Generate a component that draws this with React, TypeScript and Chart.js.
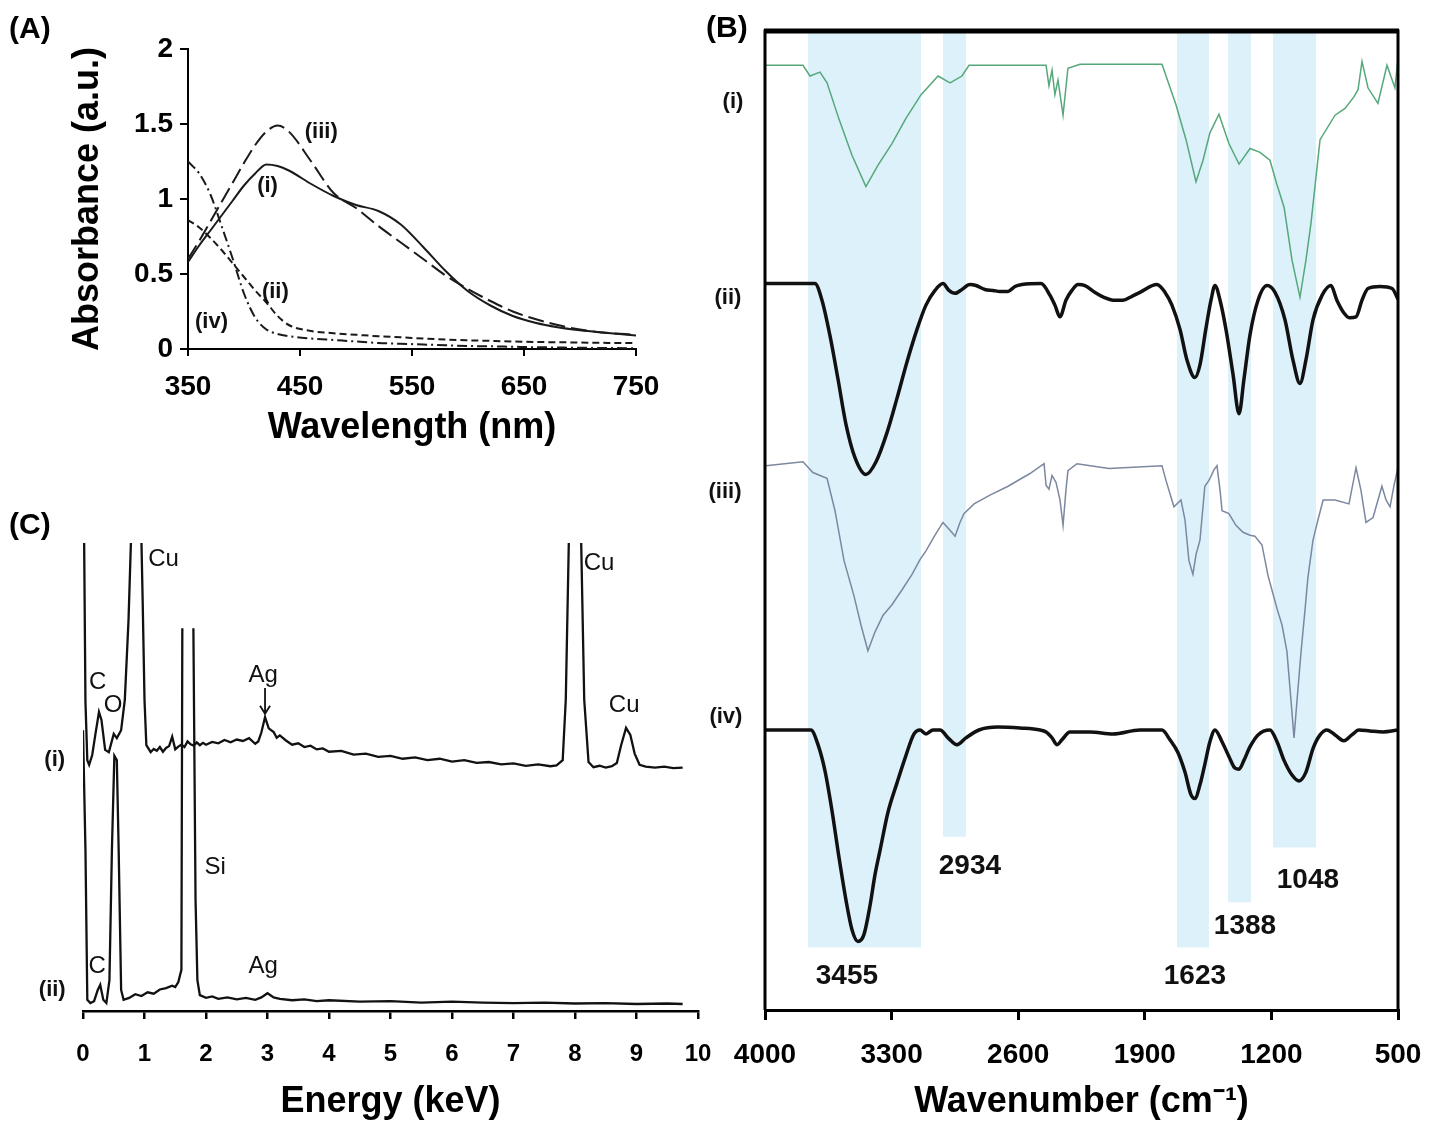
import React, { useEffect, useRef } from "react";
import { Chart, registerables } from "chart.js";

Chart.register(...registerables);

const FONT = 'Arial, "Liberation Sans", Helvetica, sans-serif';

// ---------------- Panel A : UV-Vis absorbance ----------------
const uvWavelength = [350, 360, 370, 380, 390, 400, 410, 420, 430, 440, 460, 480, 500, 520, 540, 560, 580, 600, 620, 640, 660, 680, 700, 720, 750];
const uvSeriesI = [0.58, 0.69, 0.79, 0.89, 0.99, 1.09, 1.17, 1.23, 1.22, 1.19, 1.1, 1.02, 0.96, 0.92, 0.83, 0.68, 0.52, 0.385, 0.29, 0.22, 0.175, 0.145, 0.125, 0.11, 0.09];
const uvSeriesII = [0.86, 0.81, 0.74, 0.66, 0.57, 0.48, 0.39, 0.31, 0.22, 0.16, 0.12, 0.105, 0.095, 0.085, 0.078, 0.07, 0.063, 0.058, 0.054, 0.05, 0.047, 0.045, 0.043, 0.041, 0.04];
const uvSeriesIII = [0.6, 0.72, 0.85, 0.98, 1.11, 1.24, 1.36, 1.45, 1.49, 1.45, 1.25, 1.04, 0.94, 0.82, 0.71, 0.6, 0.49, 0.4, 0.32, 0.25, 0.2, 0.16, 0.13, 0.11, 0.095];
const uvSeriesIV = [1.25, 1.17, 1.03, 0.82, 0.6, 0.37, 0.21, 0.13, 0.1, 0.085, 0.07, 0.06, 0.05, 0.04, 0.035, 0.03, 0.025, 0.02, 0.018, 0.015, 0.012, 0.01, 0.008, 0.007, 0.005];
const uvLabelText = ["(iii)", "(i)", "(ii)", "(iv)"];
const uvLabelWl = [469, 421, 428, 371];
const uvLabelAbs = [1.45, 1.09, 0.38, 0.18];

// ---------------- Panel B : FTIR ----------------
const irWnI = [3995, 3790, 3751, 3696, 3657, 3591, 3519, 3442, 3375, 3298, 3220, 3137, 3043, 2977, 2911, 2872, 2446, 2430, 2413, 2397, 2380, 2352, 2325, 2258, 1805, 1728, 1672, 1617, 1578, 1540, 1490, 1435, 1379, 1318, 1263, 1208, 1169, 1130, 1086, 1042, 1009, 981, 931, 848, 793, 743, 721, 699, 666, 611, 561, 517, 500];
const irTI = [96.5, 96.5, 95.4, 95.8, 94.7, 91.0, 87.3, 84.1, 86.3, 88.5, 91.1, 93.5, 95.4, 94.7, 95.4, 96.5, 96.5, 94.4, 96.0, 93.5, 95.0, 91.4, 96.2, 96.6, 96.6, 92.5, 88.9, 84.6, 86.8, 89.6, 91.5, 88.5, 86.4, 88.0, 87.6, 86.8, 84.3, 82.0, 76.6, 72.8, 76.6, 80.4, 88.9, 91.4, 92.1, 93.3, 94.0, 96.9, 94.2, 92.6, 96.5, 94.2, 97.2];

const irWnII = [3995, 3724, 3685, 3641, 3596, 3552, 3502, 3442, 3386, 3325, 3270, 3215, 3160, 3110, 3060, 3016, 2983, 2949, 2911, 2867, 2833, 2784, 2739, 2701, 2656, 2618, 2579, 2474, 2424, 2397, 2369, 2336, 2303, 2269, 2231, 2175, 2126, 2076, 2021, 1971, 1927, 1833, 1788, 1750, 1705, 1667, 1623, 1595, 1563, 1534, 1512, 1484, 1451, 1412, 1379, 1352, 1318, 1274, 1224, 1180, 1125, 1081, 1042, 1009, 970, 920, 871, 838, 799, 766, 732, 699, 666, 600, 533, 500];
const irTII = [74.2, 74.2, 72.5, 68.9, 64.4, 59.8, 56.4, 54.7, 56.0, 59.0, 62.5, 66.2, 69.5, 72.0, 73.5, 74.2, 73.5, 73.2, 73.6, 74.1, 74.0, 73.6, 73.5, 73.4, 73.4, 73.9, 74.1, 74.2, 73.0, 72.0, 70.8, 72.5, 73.5, 74.1, 74.0, 73.3, 72.8, 72.5, 72.5, 72.9, 73.3, 74.1, 73.3, 72.0, 69.5, 66.4, 64.6, 65.9, 69.5, 72.5, 74.0, 72.5, 69.5, 64.9, 60.9, 64.4, 69.0, 72.5, 74.0, 73.3, 70.5, 66.4, 64.0, 66.4, 70.5, 73.0, 74.0, 72.5, 71.2, 70.7, 70.8, 72.5, 73.7, 73.9, 73.7, 72.6];

const irWnIII = [3995, 3790, 3735, 3696, 3657, 3613, 3563, 3508, 3469, 3431, 3392, 3348, 3298, 3243, 3187, 3143, 3110, 3060, 3016, 2977, 2949, 2922, 2900, 2844, 2756, 2656, 2535, 2457, 2446, 2430, 2413, 2391, 2369, 2352, 2336, 2325, 2275, 2098, 1805, 1783, 1739, 1700, 1678, 1656, 1634, 1617, 1595, 1568, 1545, 1517, 1501, 1484, 1473, 1435, 1396, 1357, 1318, 1291, 1252, 1219, 1197, 1169, 1141, 1114, 1092, 1075, 1058, 1036, 1014, 998, 970, 942, 914, 848, 771, 732, 705, 677, 638, 589, 566, 544, 522, 500];
const irTIII = [55.6, 56.0, 54.9, 54.6, 54.3, 51.0, 45.9, 42.3, 39.3, 36.7, 38.6, 40.3, 41.4, 42.9, 44.5, 46.0, 46.9, 48.5, 49.8, 49.0, 48.4, 49.8, 50.7, 51.7, 52.6, 53.5, 54.8, 55.8, 53.6, 53.2, 54.6, 53.9, 52.1, 49.5, 53.1, 55.1, 55.8, 55.3, 55.6, 54.1, 51.4, 52.1, 50.1, 45.9, 44.5, 46.5, 48.0, 53.5, 54.1, 55.2, 55.6, 53.1, 51.0, 50.7, 49.5, 48.8, 48.5, 48.4, 47.5, 44.4, 42.9, 41.0, 39.3, 36.6, 31.7, 27.8, 31.7, 36.6, 40.9, 44.2, 48.0, 50.1, 52.1, 52.1, 51.7, 55.4, 53.1, 49.8, 50.3, 53.5, 52.1, 51.4, 53.6, 55.4];

const irWnIV = [3995, 3746, 3707, 3668, 3630, 3591, 3552, 3519, 3486, 3453, 3419, 3392, 3364, 3320, 3270, 3226, 3176, 3143, 3110, 3071, 3032, 2988, 2938, 2889, 2817, 2712, 2590, 2479, 2446, 2413, 2385, 2358, 2314, 2203, 2076, 1927, 1805, 1761, 1717, 1678, 1645, 1623, 1595, 1568, 1540, 1512, 1473, 1435, 1401, 1379, 1352, 1318, 1274, 1208, 1169, 1130, 1086, 1047, 1009, 970, 931, 893, 848, 799, 755, 716, 655, 583, 500];
const irTIV = [28.6, 28.6, 27.1, 24.4, 20.4, 15.6, 11.2, 8.2, 7.0, 7.7, 10.7, 13.8, 16.3, 20.2, 23.2, 25.7, 28.2, 28.6, 28.2, 28.6, 28.6, 27.8, 27.1, 27.8, 28.6, 28.9, 28.8, 28.6, 28.4, 27.8, 27.1, 27.6, 28.4, 28.4, 28.2, 28.6, 28.6, 27.6, 26.3, 24.3, 22.0, 21.6, 23.0, 25.1, 27.4, 28.6, 27.4, 25.9, 24.7, 24.6, 25.5, 26.9, 28.1, 28.6, 27.4, 25.5, 24.0, 23.4, 24.3, 26.7, 28.1, 28.6, 28.1, 27.5, 28.1, 28.6, 28.5, 28.4, 28.6];

const irBandFrom = [3762, 3016, 1722, 1440, 1191];
const irBandTo = [3137, 2889, 1545, 1313, 953];
const irBandBottom = [6.4, 17.7, 6.4, 11.0, 16.6];
const irBandLabels = ["3455", "2934", "1623", "1388", "1048"];
const irBandLabelWn = [3547, 2867, 1623, 1346, 998];
const irBandLabelT = [3.4, 14.7, 3.4, 8.6, 13.3];
const irTraceLabels = ["(i)", "(ii)", "(iii)", "(iv)"];
const irTraceLabelWn = [4177, 4205, 4221, 4216];
const irTraceLabelT = [92.8, 72.7, 52.9, 29.9];

// ---------------- Panel C : EDS ----------------
const edsEnergyI = [0, 0.04, 0.07, 0.1, 0.15, 0.2, 0.26, 0.3, 0.36, 0.42, 0.5, 0.55, 0.62, 0.68, 0.74, 0.78, 0.85, 0.95, 0.97, 1.0, 1.03, 1.1, 1.15, 1.2, 1.25, 1.3, 1.35, 1.4, 1.45, 1.5, 1.55, 1.6, 1.65, 1.7, 1.75, 1.8, 1.85, 1.9, 1.95, 2.0, 2.1, 2.2, 2.3, 2.4, 2.5, 2.6, 2.7, 2.8, 2.85, 2.9, 2.96, 3.02, 3.1, 3.15, 3.2, 3.3, 3.4, 3.5, 3.6, 3.7, 3.8, 3.9, 4.0, 4.2, 4.4, 4.6, 4.8, 5.0, 5.2, 5.4, 5.6, 5.8, 6.0, 6.2, 6.4, 6.6, 6.8, 7.0, 7.2, 7.4, 7.6, 7.7, 7.8, 7.85, 7.9, 8.0, 8.1, 8.15, 8.22, 8.3, 8.4, 8.5, 8.6, 8.68, 8.75, 8.83, 8.9, 8.97, 9.05, 9.15, 9.3, 9.45, 9.6, 9.75];
const edsCountsI = [130, 66, 53.6, 52.6, 54.7, 59, 63.9, 62.2, 55.8, 55.3, 59.2, 58.3, 60.0, 66.5, 83.5, 100.5, 140, 100.5, 87.8, 66.5, 56.8, 55.3, 56.0, 55.6, 56.4, 55.4, 56.2, 56.6, 58.6, 55.9, 56.5, 56.9, 56.4, 57.6, 57.0, 56.7, 57.4, 56.8, 57.3, 56.9, 57.5, 57.2, 57.9, 57.4, 58.0, 57.7, 58.3, 57.1, 57.6, 59.5, 62.8, 60.4, 59.6, 58.4, 58.9, 57.8, 56.9, 57.2, 56.4, 56.7, 55.9, 56.1, 55.4, 55.6, 54.8, 55.0, 54.3, 54.5, 53.9, 54.2, 53.6, 53.9, 53.3, 53.6, 53.0, 53.2, 52.7, 52.9, 52.4, 52.7, 52.3, 52.5, 53.6, 66.5, 100.5, 140, 100.5, 66.5, 53.2, 52.1, 52.4, 52.0, 52.3, 53.0, 56.8, 60.5, 59.0, 55.0, 52.6, 52.2, 52.0, 52.2, 51.9, 52.0];
const edsEnergyII = [0, 0.04, 0.07, 0.12, 0.18, 0.24, 0.28, 0.33, 0.38, 0.43, 0.47, 0.51, 0.55, 0.58, 0.62, 0.66, 0.75, 0.85, 0.95, 1.05, 1.15, 1.25, 1.35, 1.45, 1.5, 1.55, 1.6, 1.615, 1.7, 1.795, 1.83, 1.86, 1.9, 2.0, 2.1, 2.2, 2.35, 2.5, 2.65, 2.8, 2.9, 3.0, 3.1, 3.2, 3.4, 3.6, 3.8, 4.0, 4.5, 5.0, 5.5, 6.0, 6.5, 7.0, 7.5, 8.0, 8.5, 9.0, 9.5, 9.75];
const edsCountsII = [60, 34.4, 2.4, 1.7, 2.1, 4.5, 5.6, 2.4, 1.7, 6.6, 34.4, 54.5, 53.6, 34.4, 4.5, 2.4, 2.8, 3.6, 3.2, 4.0, 3.7, 4.6, 4.9, 5.4, 5.1, 6.2, 8.8, 81.8, null, 81.8, 23.7, 6.6, 3.4, 2.8, 3.1, 2.6, 2.9, 2.5, 2.8, 2.4, 2.9, 3.8, 2.9, 2.6, 2.3, 2.5, 2.1, 2.3, 2.0, 2.1, 1.8, 2.0, 1.8, 1.7, 1.8, 1.6, 1.7, 1.5, 1.6, 1.5];
const edsPeakLabels = ["Cu", "C", "O", "Ag", "Cu", "Cu", "Si", "C", "Ag"];
const edsPeakLabelE = [1.31, 0.24, 0.49, 2.93, 8.39, 8.8, 2.15, 0.23, 2.93];
const edsPeakLabelY = [96.4, 70.3, 65.2, 71.8, 95.7, 65.2, 30.6, 9.6, 9.6];
const edsTraceLabels = ["(i)", "(ii)"];
const edsTraceLabelE = [-0.46, -0.5];
const edsTraceLabelY = [53.6, 4.5];

// ---------------- helpers ----------------
type Note = { x: number; y: number; text: string; font: string; align?: CanvasTextAlign };

function notesPlugin(id: string, notes: Note[], arrows: { x: number; y1: number; y2: number }[] = []) {
  return {
    id,
    afterDatasetsDraw(chart: any) {
      const { ctx, scales } = chart;
      const xs = scales.x;
      const ys = scales.y;
      ctx.save();
      ctx.fillStyle = "#111";
      ctx.textBaseline = "middle";
      for (const n of notes) {
        ctx.font = n.font;
        ctx.textAlign = n.align || "center";
        ctx.fillText(n.text, xs.getPixelForValue(n.x), ys.getPixelForValue(n.y));
      }
      ctx.strokeStyle = "#111";
      ctx.lineWidth = 1.8;
      for (const a of arrows) {
        const px = xs.getPixelForValue(a.x);
        const p1 = ys.getPixelForValue(a.y1);
        const p2 = ys.getPixelForValue(a.y2);
        ctx.beginPath();
        ctx.moveTo(px, p1);
        ctx.lineTo(px, p2);
        ctx.moveTo(px - 5, p2 - 8);
        ctx.lineTo(px, p2);
        ctx.lineTo(px + 5, p2 - 8);
        ctx.stroke();
      }
      ctx.restore();
    },
  };
}

function fixBox(kind: "w" | "h", size: number) {
  return (scale: any) => {
    if (kind === "w") scale.width = size;
    else scale.height = size;
    scale.paddingLeft = 0;
    scale.paddingRight = 0;
    scale.paddingTop = 0;
    scale.paddingBottom = 0;
  };
}

function pts(xs: number[], ys: (number | null)[]) {
  return xs.map((x, i) => ({ x, y: ys[i] }));
}

const tickFont = (size: number) => ({ family: FONT, size, weight: "bold" as const });

function useChart(ref: React.RefObject<HTMLCanvasElement | null>, make: () => any) {
  useEffect(() => {
    if (!ref.current) return;
    const chart = new Chart(ref.current, make());
    return () => chart.destroy();
  }, []);
}

function PanelA() {
  const ref = useRef<HTMLCanvasElement>(null);
  useChart(ref, () => {
    const line = (ys: number[], dash: number[]) => ({
      data: pts(uvWavelength, ys),
      borderColor: "#1a1a1a",
      borderWidth: 2,
      borderDash: dash,
      pointRadius: 0,
      fill: false,
      cubicInterpolationMode: "monotone",
    });
    const notes: Note[] = uvLabelText.map((t, i) => ({ x: uvLabelWl[i], y: uvLabelAbs[i], text: t, font: `bold 22px ${FONT}` }));
    return {
      type: "line",
      data: {
        datasets: [line(uvSeriesI, []), line(uvSeriesII, [7, 4]), line(uvSeriesIII, [16, 6]), line(uvSeriesIV, [10, 4, 2, 4])],
      },
      options: {
        responsive: false,
        devicePixelRatio: 1,
        animation: false,
        layout: { padding: { left: 0, top: 49, right: 64, bottom: 0 } },
        plugins: { legend: { display: false }, tooltip: { enabled: false } },
        scales: {
          x: {
            type: "linear",
            min: 350,
            max: 750,
            afterFit: fixBox("h", 111),
            ticks: { stepSize: 100, color: "#000", font: tickFont(28), padding: 14, maxRotation: 0, callback: (v: any) => String(v) },
            grid: { drawOnChartArea: false, drawTicks: true, tickLength: 7, color: "#000", lineWidth: 2 },
            border: { display: true, color: "#000", width: 2 },
            title: { display: true, text: "Wavelength (nm)", color: "#000", font: { family: FONT, size: 36, weight: "bold" }, padding: { top: 0, bottom: 10 } },
          },
          y: {
            type: "linear",
            min: 0,
            max: 2,
            afterFit: fixBox("w", 188),
            ticks: { stepSize: 0.5, color: "#000", font: tickFont(28), padding: 7, callback: (v: any) => String(v) },
            grid: { drawOnChartArea: false, drawTicks: true, tickLength: 8, color: "#000", lineWidth: 2 },
            border: { display: true, color: "#000", width: 2 },
            title: { display: true, text: "Absorbance (a.u.)", color: "#000", font: { family: FONT, size: 36, weight: "bold" }, padding: { top: 66, bottom: 0 } },
          },
        },
      },
      plugins: [notesPlugin("notesA", notes)],
    };
  });
  return <canvas ref={ref} width={700} height={460} style={{ position: "absolute", left: 0, top: 0, width: 700, height: 460 }} />;
}

function PanelB() {
  const ref = useRef<HTMLCanvasElement>(null);
  useChart(ref, () => {
    const thin = (xs: number[], ys: number[], color: string) => ({
      data: pts(xs, ys),
      borderColor: color,
      borderWidth: 1.5,
      pointRadius: 0,
      fill: false,
      tension: 0,
    });
    const thick = (xs: number[], ys: number[]) => ({
      data: pts(xs, ys),
      borderColor: "#111",
      borderWidth: 3.5,
      pointRadius: 0,
      fill: false,
      cubicInterpolationMode: "monotone",
    });
    const bands = {
      id: "bands",
      beforeDatasetsDraw(chart: any) {
        const { ctx, scales, chartArea } = chart;
        ctx.save();
        ctx.fillStyle = "#ddf1fb";
        irBandFrom.forEach((f, i) => {
          const x1 = scales.x.getPixelForValue(f);
          const x2 = scales.x.getPixelForValue(irBandTo[i]);
          const yb = scales.y.getPixelForValue(irBandBottom[i]);
          ctx.fillRect(x1, chartArea.top, x2 - x1, yb - chartArea.top);
        });
        ctx.restore();
      },
    };
    const frame = {
      id: "frame",
      afterDraw(chart: any) {
        const { ctx, chartArea } = chart;
        ctx.save();
        ctx.strokeStyle = "#000";
        ctx.lineWidth = 3;
        ctx.beginPath();
        ctx.moveTo(chartArea.left, chartArea.bottom);
        ctx.lineTo(chartArea.left, chartArea.top);
        ctx.lineTo(chartArea.right, chartArea.top);
        ctx.lineTo(chartArea.right, chartArea.bottom);
        ctx.stroke();
        ctx.lineWidth = 5;
        ctx.beginPath();
        ctx.moveTo(chartArea.left - 1, chartArea.top);
        ctx.lineTo(chartArea.right + 1, chartArea.top);
        ctx.stroke();
        ctx.restore();
      },
    };
    const notes: Note[] = [
      ...irBandLabels.map((t, i) => ({ x: irBandLabelWn[i], y: irBandLabelT[i], text: t, font: `bold 28px ${FONT}` })),
      ...irTraceLabels.map((t, i) => ({ x: irTraceLabelWn[i], y: irTraceLabelT[i], text: t, font: `bold 22px ${FONT}` })),
    ];
    return {
      type: "line",
      data: {
        datasets: [
          thin(irWnI, irTI, "#55a879"),
          thick(irWnII, irTII),
          thin(irWnIII, irTIII, "#7b889f"),
          thick(irWnIV, irTIV),
        ],
      },
      options: {
        responsive: false,
        devicePixelRatio: 1,
        animation: false,
        layout: { padding: { left: 65, top: 31, right: 53, bottom: 0 } },
        plugins: { legend: { display: false }, tooltip: { enabled: false } },
        scales: {
          x: {
            type: "linear",
            min: 500,
            max: 4000,
            reverse: true,
            afterFit: fixBox("h", 114),
            ticks: { stepSize: 700, color: "#000", font: tickFont(28), padding: 18, maxRotation: 0, callback: (v: any) => String(v) },
            grid: { drawOnChartArea: false, drawTicks: true, tickLength: 10, color: "#000", lineWidth: 3 },
            border: { display: true, color: "#000", width: 3 },
            title: { display: true, text: "Wavenumber (cm\u207B\u00B9)", color: "#000", font: { family: FONT, size: 36, weight: "bold" }, padding: { top: 0, bottom: 0 } },
          },
          y: { type: "linear", min: 0, max: 100, display: false },
        },
      },
      plugins: [bands, notesPlugin("notesB", notes), frame],
    };
  });
  return <canvas ref={ref} width={751} height={1124} style={{ position: "absolute", left: 700, top: 0, width: 751, height: 1124 }} />;
}

function PanelC() {
  const ref = useRef<HTMLCanvasElement>(null);
  useChart(ref, () => {
    const line = (xs: number[], ys: (number | null)[]) => ({
      data: pts(xs, ys),
      borderColor: "#111",
      borderWidth: 2.3,
      pointRadius: 0,
      fill: false,
      tension: 0,
      spanGaps: false,
    });
    const notes: Note[] = [
      ...edsPeakLabels.map((t, i) => ({ x: edsPeakLabelE[i], y: edsPeakLabelY[i], text: t, font: `24px ${FONT}` })),
      ...edsTraceLabels.map((t, i) => ({ x: edsTraceLabelE[i], y: edsTraceLabelY[i], text: t, font: `bold 22px ${FONT}` })),
    ];
    return {
      type: "line",
      data: { datasets: [line(edsEnergyI, edsCountsI), line(edsEnergyII, edsCountsII)] },
      options: {
        responsive: false,
        devicePixelRatio: 1,
        animation: false,
        layout: { padding: { left: 83, top: 43, right: 32, bottom: 0 } },
        plugins: { legend: { display: false }, tooltip: { enabled: false } },
        scales: {
          x: {
            type: "linear",
            min: 0,
            max: 10,
            afterFit: fixBox("h", 113),
            ticks: { stepSize: 1, color: "#000", font: tickFont(24), padding: 21, maxRotation: 0, callback: (v: any) => String(v) },
            grid: { drawOnChartArea: false, drawTicks: true, tickLength: 8, color: "#000", lineWidth: 2.5 },
            border: { display: true, color: "#000", width: 2.5 },
            title: { display: true, text: "Energy (keV)", color: "#000", font: { family: FONT, size: 36, weight: "bold" }, padding: { top: 0, bottom: 0 } },
          },
          y: { type: "linear", min: 0, max: 100, display: false },
        },
      },
      plugins: [notesPlugin("notesC", notes, [{ x: 2.96, y1: 69.0, y2: 63.5 }])],
    };
  });
  return <canvas ref={ref} width={730} height={624} style={{ position: "absolute", left: 0, top: 500, width: 730, height: 624 }} />;
}

const panelLabel = (text: string, left: number, top: number) => (
  <div style={{ position: "absolute", left, top, font: `bold 30px ${FONT}`, color: "#000", lineHeight: "34px" }}>{text}</div>
);

export default function App() {
  return (
    <div style={{ position: "absolute", left: 0, top: 0, width: 1451, height: 1124, background: "#fff", overflow: "hidden" }}>
      <PanelA />
      <PanelB />
      <PanelC />
      {panelLabel("(A)", 9, 11)}
      {panelLabel("(B)", 706, 10)}
      {panelLabel("(C)", 9, 507)}
    </div>
  );
}
